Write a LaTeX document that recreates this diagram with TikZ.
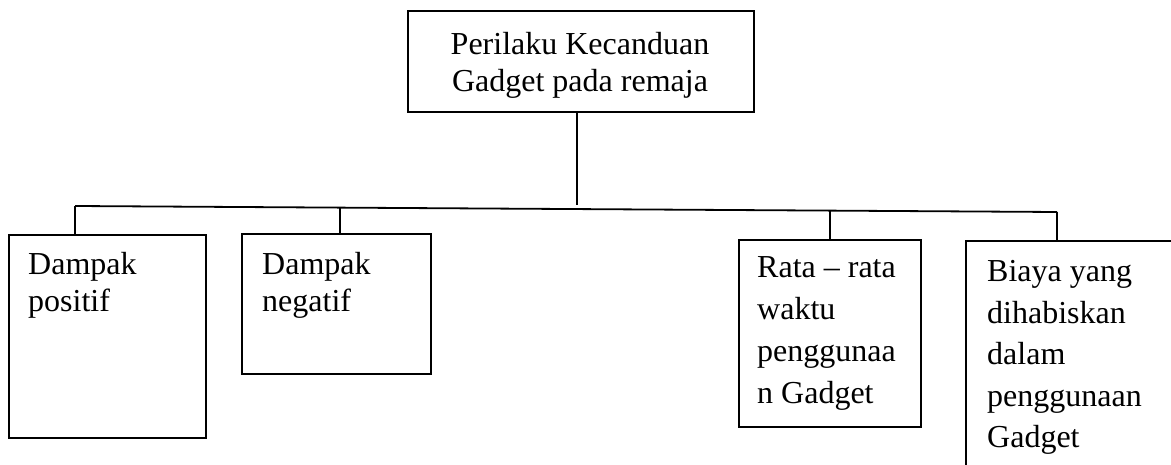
\documentclass[tikz,border=0pt]{standalone}
\usepackage{fontspec}
\setmainfont{Liberation Serif}
\begin{document}
\begin{tikzpicture}[x=1pt,y=-1pt,
  box/.style={draw, line width=1.8pt, rectangle, inner sep=0pt, anchor=north west},
  lbl/.style={anchor=base west, inner sep=0pt},
  conn/.style={line width=1.8pt},
  ]
\useasboundingbox (0,0) rectangle (1171,465);
\clip (0,0) rectangle (1171,465);
% boxes
\node[box, minimum width=346pt, minimum height=101pt] (top) at (407,10) {};
\node[box, minimum width=197pt, minimum height=203pt] (b1) at (8,234) {};
\node[box, minimum width=189pt, minimum height=140pt] (b2) at (241,233) {};
\node[box, minimum width=182pt, minimum height=187pt] (b3) at (738,239) {};
\node[box, minimum width=240pt, minimum height=260pt] (b4) at (965,240) {};
% texts
\node[anchor=base, inner sep=0pt] (t0) at (580,55)
  {\parbox[t]{320pt}{\fontsize{32}{37}\selectfont\centering Perilaku Kecanduan\\Gadget pada remaja}};
\node[lbl] (t1) at (28,275)
  {\parbox[t]{170pt}{\fontsize{32}{37}\selectfont\raggedright Dampak\\positif}};
\node[lbl] (t2) at (262,275)
  {\parbox[t]{160pt}{\fontsize{32}{37}\selectfont\raggedright Dampak\\negatif}};
\node[lbl] (t3) at (757,278)
  {\parbox[t]{160pt}{\fontsize{32}{41.7}\selectfont\raggedright Rata -- rata\\waktu\\penggunaa\\n Gadget}};
\node[lbl] (t4) at (987,282)
  {\parbox[t]{180pt}{\fontsize{32}{41.5}\selectfont\raggedright Biaya yang\\dihabiskan\\dalam\\penggunaan\\Gadget}};
% connectors
\coordinate (stem) at (577,205);
\coordinate (hl) at (75,206);
\coordinate (hr) at (1057,212);
\coordinate (d2) at (340,207.6);
\coordinate (d3) at (830,210.6);
\draw[conn] (top.south -| stem) -- (stem);
\draw[conn] (hl) -- (hr);
\draw[conn] (hl) -- (hl |- b1.north);
\draw[conn] (d2) -- (d2 |- b2.north);
\draw[conn] (d3) -- (d3 |- b3.north);
\draw[conn] (hr) -- (hr |- b4.north);
\end{tikzpicture}
\end{document}
